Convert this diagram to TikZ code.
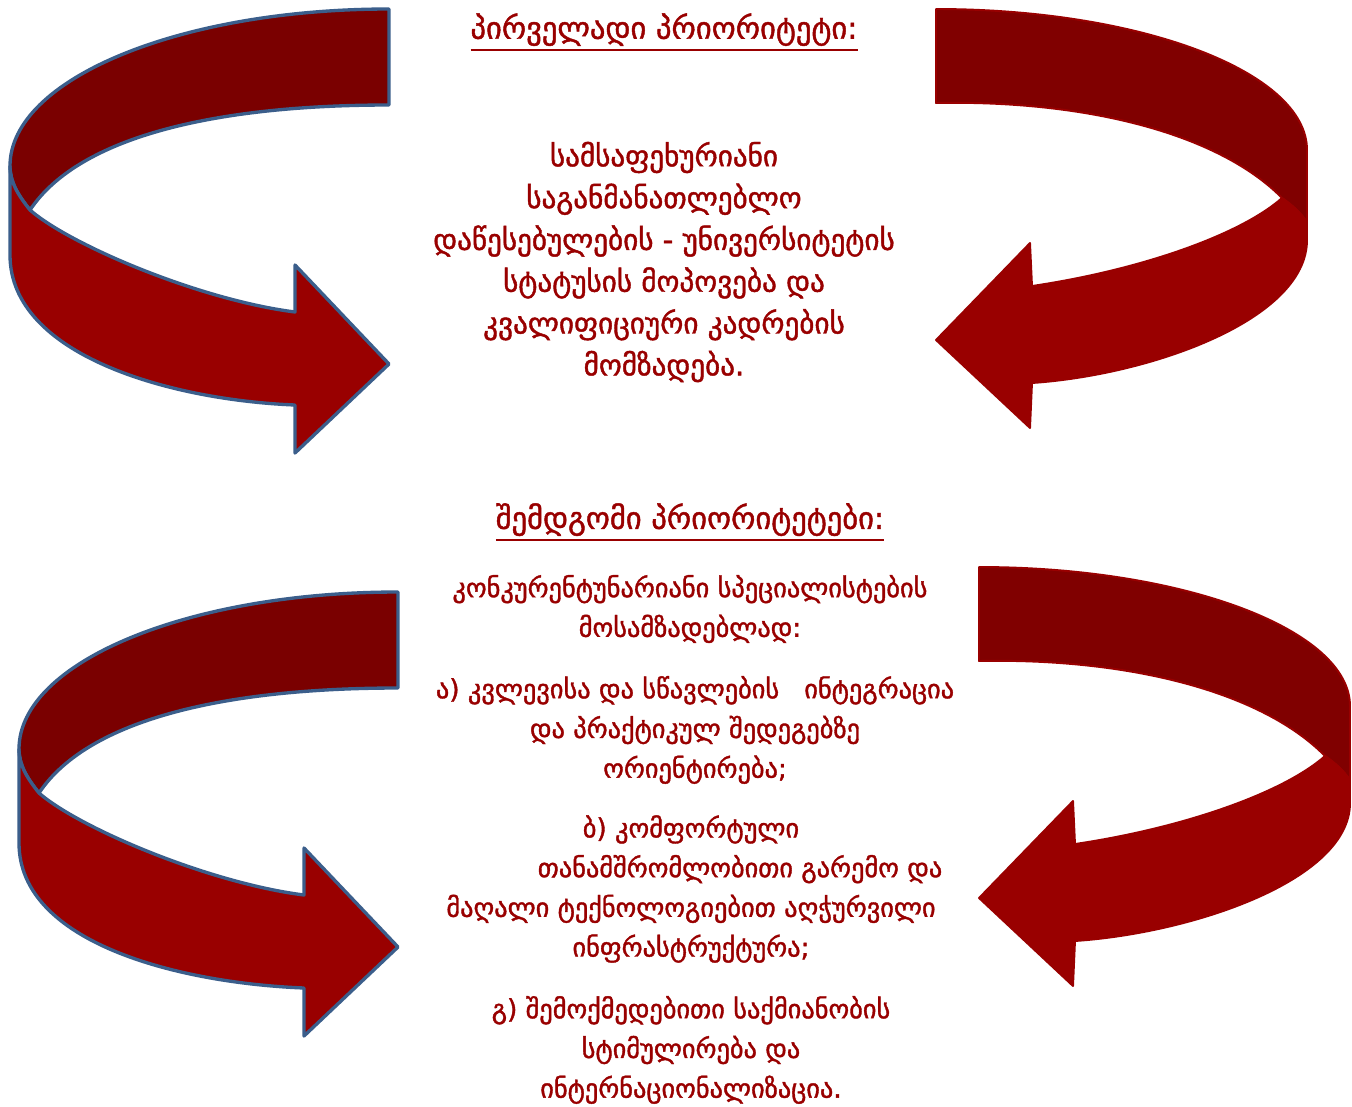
\documentclass[tikz,border=0pt]{standalone}
\usepackage{fontspec}
\setmainfont{DejaVu Sans}[BoldFont={DejaVu Sans}, BoldFeatures={FakeBold=1.4}]
\newcommand\headrule[1]{\leavevmode\vtop{\hbox{#1}\kern1.6pt\hrule height 1.1pt}}
\usetikzlibrary{backgrounds}
\definecolor{bandback}{HTML}{7A0000}
\definecolor{bandbackR}{HTML}{800000}
\definecolor{bandfront}{HTML}{990000}
\definecolor{rimblue}{HTML}{3B5E8B}
\definecolor{inkred}{HTML}{990000}

\begin{document}
\begin{tikzpicture}[x=0.02cm, y=-0.02cm,
  background rectangle/.style={fill=white}, show background rectangle, inner frame sep=0pt,
  leftback/.style={fill=bandback, draw=rimblue, line width=1.9pt, line join=round},
  leftfront/.style={fill=bandfront, draw=rimblue, line width=1.9pt, line join=round},
  rightback/.style={fill=bandbackR, draw=bandfront, line width=1.1pt, line join=round},
  rightfront/.style={fill=bandfront, draw=bandfront, line width=1.1pt, line join=round},
  heading/.style={text=inkred, font=\bfseries\fontsize{17.4pt}{19pt}\selectfont, inner sep=0pt},
  bodytext/.style={text=inkred, align=center, inner sep=0pt},
  body/.style={bodytext, font=\bfseries\fontsize{16.6pt}{23.8pt}\selectfont},
  item/.style={bodytext, font=\bfseries\fontsize{15pt}{22.6pt}\selectfont}]
  \useasboundingbox (0,0) rectangle (1352,1106);
  % Upper left arrow
  \filldraw[leftback] (389,9) -- (389,105) .. controls (220,105) and (80,135) .. (30,210)
    .. controls (18,195) and (10,182) .. (10,166) .. controls (10,79) and (180,9) .. cycle;
  \filldraw[leftfront] (10,166) -- (10,255) .. controls (10,355) and (170,400) .. (295,405)
    -- (295,453) -- (389,364) -- (295,265) -- (295,312)
    .. controls (200,300) and (70,245) .. (30,210) .. controls (18,195) and (10,182) .. cycle;
  % Upper right arrow
  \filldraw[rightback] (936,9) .. controls (1141,9) and (1307,72) .. (1307,150) -- (1307,222)
    .. controls (1300,212) and (1292,205) .. (1282,198)
    .. controls (1220,135) and (1090,100) .. (936,103) -- cycle;
  \filldraw[rightfront] (1307,222) -- (1307,240) .. controls (1307,320) and (1150,375) .. (1032,383)
    -- (1030,428) -- (936,340) -- (1030,243) -- (1032,286)
    .. controls (1140,270) and (1240,235) .. (1282,198) .. controls (1292,205) and (1300,212) .. cycle;
  % Lower left arrow
  \begin{scope}[shift={(9,583)}]
    \filldraw[leftback] (389,9) -- (389,105) .. controls (220,105) and (80,135) .. (30,210)
      .. controls (18,195) and (10,182) .. (10,166) .. controls (10,79) and (180,9) .. cycle;
    \filldraw[leftfront] (10,166) -- (10,260) .. controls (10,360) and (170,400) .. (295,405)
      -- (295,453) -- (389,364) -- (295,265) -- (295,312)
      .. controls (200,300) and (70,245) .. (30,210) .. controls (18,195) and (10,182) .. cycle;
  \end{scope}
  % Lower right arrow
  \begin{scope}[shift={(43,558)}]
    \filldraw[rightback] (936,9) .. controls (1141,9) and (1307,72) .. (1307,148) -- (1307,222)
      .. controls (1300,212) and (1292,205) .. (1282,198)
      .. controls (1220,135) and (1090,100) .. (936,103) -- cycle;
    \filldraw[rightfront] (1307,222) -- (1307,245) .. controls (1307,322) and (1150,375) .. (1032,383)
      -- (1030,428) -- (936,340) -- (1030,243) -- (1032,286)
      .. controls (1140,270) and (1240,235) .. (1282,198) .. controls (1292,205) and (1300,212) .. cycle;
  \end{scope}
  % Labels
  \node[heading] (title1) at (664,32) {\headrule{პირველადი პრიორიტეტი:}};
  \node[body] (goal1) at (664,262) {სამსაფეხურიანი\\საგანმანათლებლო\\დაწესებულების - უნივერსიტეტის\\სტატუსის მოპოვება და\\კვალიფიციური კადრების\\მომზადება.};
  \node[heading] (title2) at (690,522) {\headrule{შემდგომი პრიორიტეტები:}};
  \node[item] (goal2) at (690,609) {კონკურენტუნარიანი სპეციალისტების\\მოსამზადებლად:};
  \node[item] (itema) at (695,730) {ა) კვლევისა და სწავლების\ \ \ ინტეგრაცია\\და პრაქტიკულ შედეგებზე\\ორიენტირება;};
  \node[item] (itemb) at (691,889) {ბ) კომფორტული\\\hspace*{1.96cm}თანამშრომლობითი გარემო და\\მაღალი ტექნოლოგიებით აღჭურვილი\\ინფრასტრუქტურა;};
  \node[item] (itemc) at (691,1050) {გ) შემოქმედებითი საქმიანობის\\სტიმულირება და\\ინტერნაციონალიზაცია.};
\end{tikzpicture}
\end{document}
